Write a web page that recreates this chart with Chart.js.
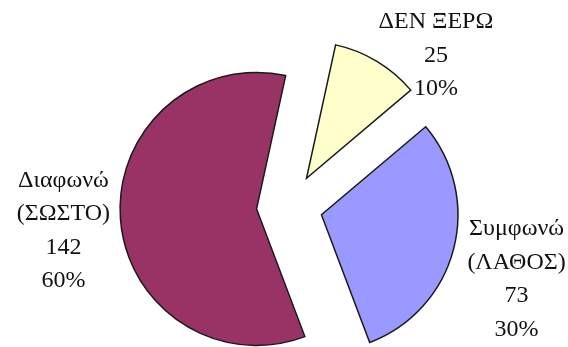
<!DOCTYPE html>
<html>
<head>
<meta charset="utf-8">
<script src="https://cdn.jsdelivr.net/npm/chart.js@4"></script>
<style>
  html, body { margin: 0; padding: 0; background: #fff; overflow: hidden; }
  #wrap { position: relative; width: 568px; height: 347px; }
</style>
</head>
<body>
<div id="wrap"><canvas id="c"></canvas></div>
<script>
// Survey answers: category name lines, counts and the printed percentages
const categories = [['ΔΕΝ ΞΕΡΩ'], ['Συμφωνώ', '(ΛΑΘΟΣ)'], ['Διαφωνώ', '(ΣΩΣΤΟ)']];
const counts = [25, 73, 142];
const percentLabels = ['10%', '30%', '60%'];

// Styling
const sliceColors = ['#FFFFCC', '#9999FF', '#993366'];
const EXPLODE = 33;            // distance each slice is pulled out from the centre
const LINE_GAP = 33.5;         // spacing between label lines
const LABEL_SHIFT = [          // label block placement relative to the slice's outer midpoint
  { dx: 59, dy: -33 },
  { dx: 63, dy: -14 },
  { dx: -57, dy: -32 }
];

// Pull every slice outward along its bisector
const explodePlugin = {
  id: 'explodeSlices',
  afterDatasetUpdate(chart, args) {
    args.meta.data.forEach(arc => {
      const mid = (arc.startAngle + arc.endAngle) / 2;
      arc.x += Math.cos(mid) * EXPLODE;
      arc.y += Math.sin(mid) * EXPLODE;
    });
  }
};

// Name, count and percentage next to each slice
const sliceLabelPlugin = {
  id: 'sliceLabels',
  afterDatasetsDraw(chart) {
    const meta = chart.getDatasetMeta(0);
    const ctx = chart.ctx;
    ctx.save();
    ctx.font = '24px "Liberation Serif", "Times New Roman", serif';
    ctx.fillStyle = '#111';
    ctx.textAlign = 'center';
    ctx.textBaseline = 'alphabetic';
    meta.data.forEach((arc, i) => {
      const mid = (arc.startAngle + arc.endAngle) / 2;
      const ax = arc.x + Math.cos(mid) * arc.outerRadius;
      const ay = arc.y + Math.sin(mid) * arc.outerRadius;
      const s = LABEL_SHIFT[i];
      const lines = [...categories[i], String(counts[i]), percentLabels[i]];
      lines.forEach((t, k) => ctx.fillText(t, ax + s.dx, ay + s.dy + k * LINE_GAP));
    });
    ctx.restore();
  }
};

new Chart(document.getElementById('c'), {
  type: 'pie',
  data: {
    labels: categories.map(l => l.join(' ')),
    datasets: [{
      data: counts,
      backgroundColor: sliceColors,
      borderColor: '#1a1a1a',
      borderWidth: 1.5,
      borderJoinStyle: 'miter',
      hoverOffset: 0,
      radius: 136.5,
      clip: false
    }]
  },
  options: {
    responsive: true,
    maintainAspectRatio: false,
    animation: false,
    events: [],
    rotation: 12.3,
    layout: { padding: { left: 11, right: 0, top: 66, bottom: 0 } },
    plugins: {
      legend: { display: false },
      tooltip: { enabled: false }
    }
  },
  plugins: [explodePlugin, sliceLabelPlugin]
});
</script>
</body>
</html>
